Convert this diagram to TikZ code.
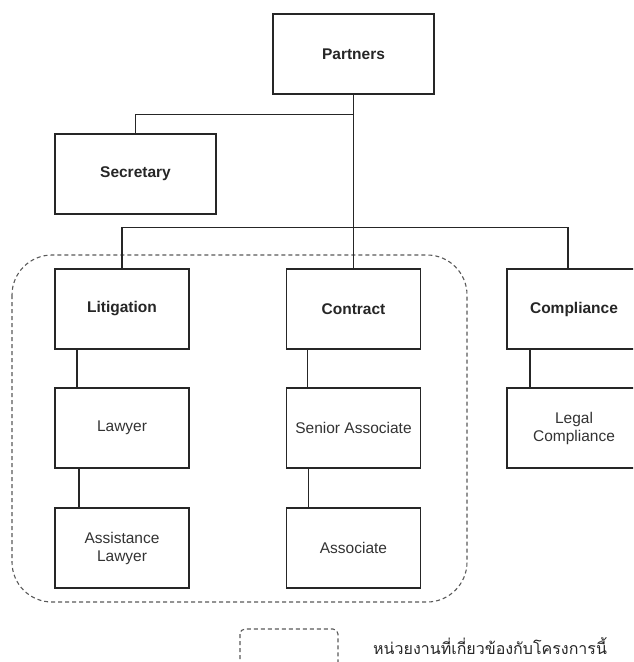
\documentclass[tikz,border=0pt]{standalone}
\usepackage{fontspec}
\setmainfont{Liberation Sans}
\newfontfamily\thaifont[Script=Thai]{Loma}
\begin{document}
\begin{tikzpicture}[x=1pt,y=-1pt,
  box/.style={draw=black!85,line width=1.3pt,fill=white,minimum width=134pt,minimum height=80pt,inner sep=2pt,align=center,font=\fontsize{15.5}{18}\selectfont,text=black!80},
  headbox/.style={box,font=\fontsize{15.5}{18}\selectfont\bfseries,text=black!85},
  link/.style={draw=black!85,line width=1.3pt},
  group/.style={draw=black!65,line width=1.1pt,dash pattern=on 4pt off 3pt}]
\useasboundingbox (0,0) rectangle (633,662);
\clip (0,0) rectangle (633,662);
% group frame
\draw[group,rounded corners=40pt] (12,255) rectangle (467,602);
% legend
\draw[group,rounded corners=5pt] (240,629) rectangle (338,700);
\node[anchor=base west,inner sep=0pt,font=\thaifont\fontsize{16}{18}\selectfont,text=black!85] (legend) at (373,654) {หน่วยงานที่เกี่ยวข้องกับโครงการนี้};
% nodes
\node[headbox,minimum width=161pt] (partners) at (353.5,54) {Partners};
\node[headbox,minimum width=161pt] (secretary) at (135.5,174) {Secretary};
\node[headbox] (litigation) at (122,309) {Litigation};
\node[headbox] (contract) at (353.5,309) {Contract};
\node[headbox] (compliance) at (574,309) {Compliance};
\node[box] (lawyer) at (122,428) {Lawyer};
\node[box] (senior) at (353.5,428) {Senior Associate};
\node[box] (legal) at (574,428) {Legal\\Compliance};
\node[box] (assist) at (122,548) {Assistance\\Lawyer};
\node[box] (associate) at (353.5,548) {Associate};
% connectors
\draw[link] (partners.south) -- (contract.north);
\draw[link] (partners.south) ++(0,20) -| (secretary.north);
\coordinate (hl) at ([yshift=41pt]litigation.north);
\coordinate (cn) at ([xshift=-6pt]compliance.north);
\draw[link] (litigation.north) -- (hl) -| (cn);
\draw[link] (litigation.south) ++(-45,0) coordinate (a1) -- (a1 |- lawyer.north);
\draw[link] (lawyer.south) ++(-43,0) coordinate (a2) -- (a2 |- assist.north);
\draw[link] (contract.south) ++(-46,0) coordinate (a3) -- (a3 |- senior.north);
\draw[link] (senior.south) ++(-45,0) coordinate (a4) -- (a4 |- associate.north);
\draw[link] (compliance.south) ++(-44,0) coordinate (a5) -- (a5 |- legal.north);
\end{tikzpicture}
\end{document}
